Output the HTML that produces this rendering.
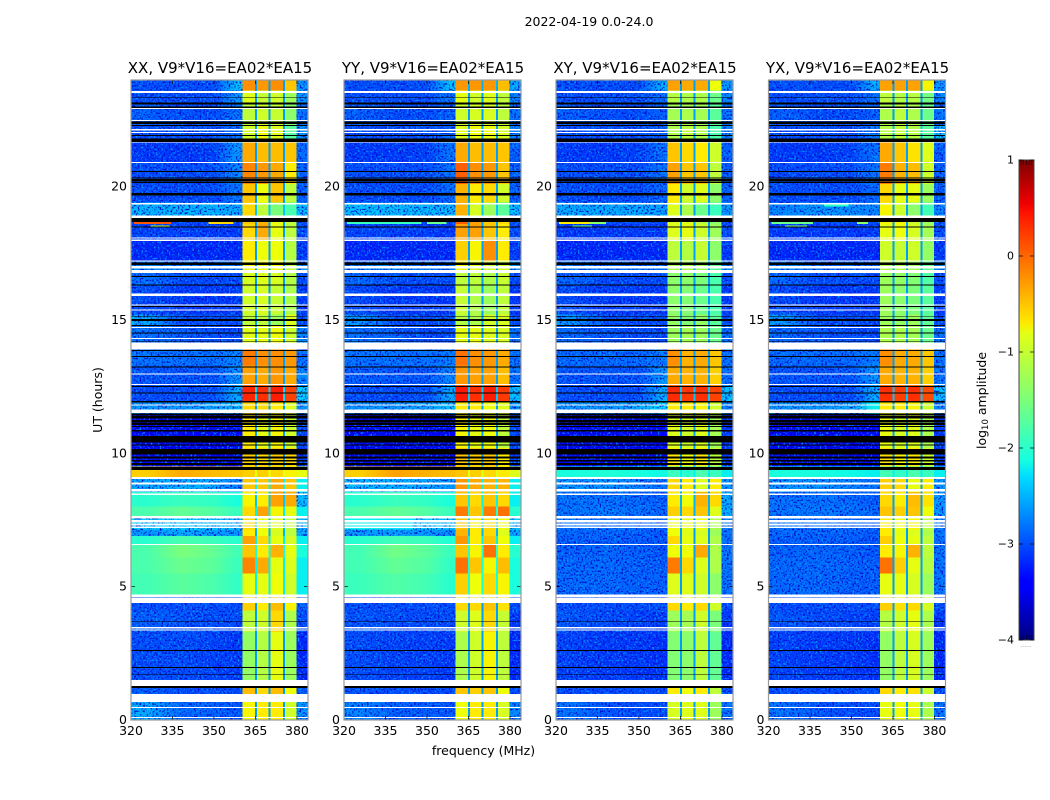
<!DOCTYPE html>
<html>
<head>
<meta charset="utf-8">
<title>2022-04-19 0.0-24.0</title>
<style>
html,body{margin:0;padding:0;background:#fff;}
svg{display:block;}
text{font-family:"DejaVu Sans","Liberation Sans",sans-serif;fill:#000;}
</style>
</head>
<body>
<svg id="figure" xmlns="http://www.w3.org/2000/svg" width="1050" height="800" viewBox="0 0 1050 800">
  <defs id="defs">
    <filter id="speckle" x="0" y="0" width="1" height="1" filterUnits="objectBoundingBox" color-interpolation-filters="sRGB">
      <feTurbulence type="fractalNoise" baseFrequency="0.55" numOctaves="1" seed="4" result="n"/>
      <feColorMatrix in="n" type="matrix" values="0 0 0 0 0  0 0 0 0 0.6  0 0 0 0 1  5 0 0 0 -2.6" result="light"/>
      <feColorMatrix in="n" type="matrix" values="0 0 0 0 0  0 0 0 0 0.05  0 0 0 0 0.8  0 -5 0 0 2.45" result="dark"/>
      <feMerge result="m"><feMergeNode in="light"/><feMergeNode in="dark"/></feMerge>
      <feComposite in="m" in2="SourceAlpha" operator="in"/>
    </filter>
    <linearGradient id="jet-gradient" x1="0" y1="1" x2="0" y2="0">
      <stop offset="0" stop-color="#00007f"/>
      <stop offset="0.11" stop-color="#0000ff"/>
      <stop offset="0.125" stop-color="#0000ff"/>
      <stop offset="0.34" stop-color="#00dcff"/>
      <stop offset="0.375" stop-color="#16ffe1"/>
      <stop offset="0.5" stop-color="#7cff79"/>
      <stop offset="0.64" stop-color="#e3ff14"/>
      <stop offset="0.66" stop-color="#ffea00"/>
      <stop offset="0.89" stop-color="#ff1300"/>
      <stop offset="0.91" stop-color="#ee0000"/>
      <stop offset="1" stop-color="#7f0000"/>
    </linearGradient>
  </defs>
  <text x="589" y="26" font-size="12.5" text-anchor="middle">2022-04-19 0.0-24.0</text>
  <text x="483.5" y="755" font-size="12.5" text-anchor="middle">frequency (MHz)</text>
  <text x="0" y="0" font-size="12.5" text-anchor="middle" transform="translate(102,400) rotate(-90)">UT (hours)</text>
  <text x="0" y="0" font-size="12.5" text-anchor="middle" transform="translate(986,400.5) rotate(-90)">log<tspan font-size="8.5" dy="2">10</tspan><tspan dy="-2"> amplitude</tspan></text>
  <g id="panels"></g>
  <g id="colorbar"></g>
  <text x="1026" y="647" font-size="6" style="fill:#888" text-anchor="middle">......</text>
</svg>
<script>
const panelTitles = ["XX, V9*V16=EA02*EA15", "YY, V9*V16=EA02*EA15", "XY, V9*V16=EA02*EA15", "YX, V9*V16=EA02*EA15"];
const xTicks = [320, 335, 350, 365, 380];
const yTicks = [0, 5, 10, 15, 20];
const colorTicks = [-4, -3, -2, -1, 0, 1];
const colorTickLabels = ["\u22124", "\u22123", "\u22122", "\u22121", "0", "1"];

/* frequency columns (MHz): four low-band zones, then bright channels, gaps between */
const freqEdges = [320, 332, 345, 355.5, 360.4, 364.8, 365.5, 369.8, 370.5, 374.9, 375.6, 379.9, 384];
/* index into a row's 9 values for each frequency column */
const freqColumnSource = [0, 1, 2, 3, 4, 8, 5, 8, 6, 8, 7, 8];

/* UT row boundaries in hours */
const rowEdges = [0, .7, 1.5, 3.3, 4.1, 4.7, 5.5, 6.1, 6.6, 6.9, 7.15, 7.65, 8, 8.55, 9.11, 9.5, 10.2, 11.5, 11.9, 12.55, 13.3, 13.95, 14.8, 15.2, 16.3, 16.8, 17.2, 18, 18.6, 18.68, 19.4, 20.1, 20.9, 21.7, 22.3, 23.1, 23.6, 24];

/* log10 amplitude per row: [low1, low2, low3, low4, ch1, ch2, ch3, ch4, edge] */
const levelsXX = [
[-2.5,-2.85,-2.9,-2.95,-.75,-.7,-.7,-1,-2.6],
[-2.9,-3,-3,-3,-.45,-.6,-.45,-.8,-2.9],
[-3,-3,-3.05,-3.1,-1.35,-1.15,-.85,-1.3,-3.2],
[-2.9,-2.95,-3,-3,-1.1,-1,-.6,-1.2,-3],
[-3,-3,-3,-3,-.55,-.7,-.45,-.75,-2.9],
[-1.85,-1.7,-1.8,-1.95,-.85,-.85,-.8,-1,-2.2],
[-1.8,-1.6,-1.7,-1.9,-.15,-.35,-.85,-.9,-2.2],
[-1.8,-1.5,-1.65,-1.85,-.5,-.7,-.4,-.85,-2.1],
[-2,-1.8,-1.9,-2,-.3,-.6,-.85,-.95,-2.2],
[-2.6,-2.5,-2.55,-2.6,-.7,-.8,-.95,-1.1,-2.5],
[-2.3,-2.3,-2.35,-2.4,-.6,-.8,-.9,-1.1,-2.4],
[-1.8,-1.65,-1.75,-1.9,-.6,-.3,-.75,-.85,-2.2],
[-2,-1.9,-1.95,-2.1,-.75,-.7,-.3,-.35,-2.4],
[-2.5,-2.45,-2.5,-2.7,-.5,-.5,-.35,-.5,-2.2],
[-.55,-.35,-.45,-.5,-.55,-.55,-.6,-.75,-.85],
[-3.5,-3.5,-3.5,-3.4,-.55,-.6,-.55,-.6,-3.1],
[-3.5,-3.5,-3.5,-3.4,-.7,-.85,-.75,-1,-3],
[-2.6,-2.6,-2.5,-2.4,-.6,-.6,-.7,-.9,-2.6],
[-3,-3,-3,-2.5,.35,.3,.4,.2,-2.3],
[-2.95,-2.95,-2.95,-2.6,-.3,-.35,-.25,-.35,-2.7],
[-2.8,-2.8,-2.8,-2.7,-.1,-.2,-.2,-.25,-2.8],
[-2.8,-2.9,-3,-3,-.9,-.85,-.8,-1,-2.7],
[-2.5,-3,-3,-3,-1.1,-1.1,-1.3,-.9,-3],
[-3,-3.1,-3.1,-3.1,-1,-.95,-1.05,-1.2,-3.1],
[-2.8,-3,-3,-3,-.95,-.9,-.95,-1.15,-3],
[-2.7,-2.7,-2.8,-2.8,-.8,-.8,-.8,-1.1,-2.6],
[-3.2,-3.2,-3.2,-3.2,-.7,-.8,-.8,-1.15,-3.1],
[-3.05,-3.05,-3.1,-3.1,-.6,-.35,-.85,-1.1,-3],
[-3,-3,-3.05,-3,-.5,-.4,-.85,-1.1,-3],
[-2.45,-2.45,-2.45,-2.5,-.6,-1.1,-1.5,-1.8,-2.4],
[-3,-3,-3,-2.8,-.5,-.8,-.5,-1.1,-2.9],
[-3,-3,-3,-2.7,-.15,-.25,-.35,-.7,-2.9],
[-3.1,-3.1,-3.05,-2.6,-.35,-.45,-.45,-.5,-2.85],
[-3,-3,-3,-2.8,-1,-.8,-.9,-1.7,-2.6],
[-2.9,-3,-3,-2.8,-1.1,-1,-1.05,-1.4,-2.8],
[-3,-3,-3,-2.6,-.9,-1.05,-1,-1.3,-2.6],
[-3,-3,-3,-2.4,-.2,-.25,-.2,-.5,-2.6]
];
const levelsYY = [
[-2.7,-2.9,-2.9,-2.95,-.8,-.7,-.7,-.95,-2.7],
[-2.95,-3,-3,-3,-.5,-.55,-.5,-.8,-3],
[-3,-3.05,-3.05,-3.1,-1.2,-1,-.75,-1.1,-3.2],
[-2.95,-3,-3,-3,-1,-.9,-.6,-1.05,-3.1],
[-3,-3,-3,-3,-.6,-.6,-.5,-.65,-3],
[-1.9,-1.75,-1.85,-2,-.55,-.8,-.6,-.75,-2.1],
[-1.85,-1.65,-1.75,-1.95,-.05,-.5,-.75,-.45,-2.1],
[-1.85,-1.55,-1.7,-1.9,-.5,-.75,-.05,-.7,-2],
[-2,-1.85,-1.9,-2.05,-.25,-.7,-.5,-.8,-2.2],
[-2.6,-2.55,-2.6,-2.65,-.4,-.7,-.6,-.9,-2.5],
[-2.2,-2.25,-2.3,-2.35,-.5,-.7,-.6,-.8,-2.4],
[-1.8,-1.65,-1.75,-1.9,-.1,-.5,-.1,-.05,-2],
[-2,-1.9,-1.95,-2.1,-.5,-.6,-.5,-.6,-2.2],
[-2.4,-2.45,-2.5,-2.6,-.25,-.35,-.4,-.4,-2.2],
[-.55,-.3,-.4,-.45,-.5,-.55,-.6,-.7,-.9],
[-3.5,-3.5,-3.5,-3.4,-.5,-.55,-.5,-.7,-3.1],
[-3.5,-3.5,-3.5,-3.4,-.75,-.85,-.8,-1.1,-3],
[-2.6,-2.6,-2.5,-2.4,-.7,-.7,-.8,-.9,-2.6],
[-3,-3,-3,-2.5,.42,.3,.4,.25,-2.4],
[-2.9,-2.95,-2.95,-2.7,-.25,-.3,-.3,-.45,-2.8],
[-2.8,-2.8,-2.8,-2.75,-.05,-.2,-.25,-.35,-2.8],
[-2.8,-2.9,-3,-3,-.85,-.85,-.9,-.95,-2.8],
[-2.6,-3,-3,-3,-1.15,-1.2,-1,-.95,-3],
[-3,-3.1,-3.1,-3.1,-1.05,-1.2,-1.3,-1.1,-3.1],
[-2.85,-3,-3,-3,-1.1,-1.1,-1.2,-1.05,-3],
[-2.7,-2.7,-2.8,-2.8,-.8,-.9,-1,-1,-2.6],
[-3.2,-3.2,-3.2,-3.2,-.55,-.75,-.2,-.7,-3.1],
[-3.05,-3.05,-3.1,-3.1,-.3,-.3,-.5,-.7,-3],
[-3,-3,-3,-3,.05,-.3,-.5,-.6,-3],
[-2.4,-2.4,-2.42,-2.45,-.4,-.95,-1.3,-1.7,-2.4],
[-3,-3,-3,-2.85,-.4,-.7,-.6,-1,-2.9],
[-3,-3,-3,-2.8,.05,-.2,-.25,-.5,-2.9],
[-3.1,-3.1,-3.05,-2.8,-.35,-.45,-.45,-.5,-2.9],
[-3,-3,-3,-2.9,-.9,-.8,-.8,-.95,-2.7],
[-2.9,-3,-3,-2.9,-1,-.95,-.95,-1.1,-2.8],
[-3,-3,-3,-2.8,-.85,-1,-.9,-1.1,-2.7],
[-3,-3,-3,-2.4,-.25,-.25,-.25,-.45,-2.5]
];
const levelsXY = [
[-2.8,-2.95,-3,-3,-.95,-.9,-.9,-1.3,-2.8],
[-3,-3,-3,-3,-.7,-.8,-.7,-1.1,-3],
[-3.05,-3.1,-3.1,-3.15,-1.45,-1.4,-1.1,-1.65,-3.2],
[-2.95,-3,-3.05,-3.05,-1.3,-1.25,-1,-1.5,-3.1],
[-3,-3,-3,-3,-.6,-.7,-.6,-1,-3],
[-2.85,-2.85,-2.9,-2.9,-.9,-.9,-1,-1.4,-2.8],
[-2.85,-2.85,-2.9,-2.9,-.1,-.6,-.9,-1.2,-2.8],
[-2.9,-2.85,-2.9,-2.95,-.8,-.8,-.35,-1.2,-2.8],
[-2.9,-2.9,-2.9,-2.95,-.6,-.85,-.9,-1.2,-2.8],
[-2.85,-2.85,-2.9,-2.95,-.8,-.9,-.95,-1.3,-2.8],
[-2.8,-2.8,-2.85,-2.9,-.8,-.85,-.8,-1.2,-2.7],
[-2.8,-2.75,-2.8,-2.85,-.55,-.6,-.5,-.9,-2.5],
[-2.8,-2.8,-2.85,-2.9,-.7,-.8,-.4,-.6,-2.5],
[-2.6,-2.6,-2.7,-2.8,-.6,-.7,-.9,-.7,-2.6],
[-2.1,-2.05,-2.1,-2.15,-1.9,-2,-1.8,-1.9,-2.2],
[-3.5,-3.5,-3.5,-3.4,-.7,-.8,-.7,-1.1,-3.1],
[-3.5,-3.5,-3.5,-3.4,-.9,-1,-.9,-1.25,-3.1],
[-2.6,-2.6,-2.5,-2.3,-.7,-.7,-.75,-1,-2.7],
[-3,-3,-3,-2.5,.32,.25,.3,.2,-2.4],
[-2.95,-2.95,-2.95,-2.6,-.35,-.4,-.4,-.55,-2.8],
[-2.85,-2.85,-2.85,-2.75,-.2,-.4,-.35,-.5,-2.8],
[-2.85,-2.95,-3,-3,-1.3,-1.25,-1.3,-1.6,-2.8],
[-2.6,-3,-3,-3,-1.35,-1.45,-1.35,-1.7,-3],
[-3,-3.1,-3.1,-3.1,-1.4,-1.45,-1.6,-1.8,-3.1],
[-2.85,-3,-3,-3,-1.4,-1.4,-1.5,-1.8,-3],
[-2.7,-2.8,-2.85,-2.85,-1.2,-1.2,-1.3,-1.7,-2.7],
[-3.2,-3.2,-3.2,-3.2,-1.1,-1.15,-1.05,-1.4,-3.1],
[-3.1,-3.1,-3.1,-3.1,-.9,-.85,-1,-1.3,-3],
[-3,-3,-3,-3,-.9,-.9,-1.1,-1.4,-3],
[-2.5,-2.5,-2.5,-2.55,-.9,-1.2,-1.6,-1.9,-2.6],
[-3,-3,-3,-2.85,-.7,-1,-.9,-1.4,-2.9],
[-3,-3,-3,-2.8,-.3,-.5,-.5,-1.1,-2.9],
[-3.1,-3.1,-3.05,-2.8,-.5,-.6,-.7,-1,-2.9],
[-3,-3,-3,-2.9,-1.2,-1.1,-1.2,-1.8,-2.7],
[-2.9,-3,-3,-2.9,-1.25,-1.2,-1.25,-1.7,-2.8],
[-3,-3,-3,-2.8,-1.15,-1.2,-1.2,-1.6,-2.7],
[-3,-3,-3,-2.5,-.3,-.35,-.35,-.8,-2.6]
];
const levelsYX = [
[-2.8,-2.95,-3,-3,-.85,-.8,-.85,-1.2,-2.8],
[-3,-3,-3,-3,-.6,-.7,-.65,-1,-3],
[-3.05,-3.1,-3.1,-3.15,-1.35,-1.1,-.95,-1.3,-3.2],
[-2.95,-3,-3.05,-3.05,-1.15,-1,-.85,-1.2,-3.1],
[-3,-3,-3,-3,-.55,-.65,-.6,-.95,-3],
[-2.85,-2.85,-2.9,-2.9,-.85,-.85,-.95,-1.3,-2.8],
[-2.85,-2.85,-2.9,-2.9,-.05,-.55,-.85,-1.15,-2.8],
[-2.9,-2.85,-2.9,-2.95,-.7,-.75,-.4,-1.1,-2.8],
[-2.9,-2.9,-2.9,-2.95,-.55,-.8,-.85,-1.1,-2.8],
[-2.85,-2.85,-2.9,-2.95,-.7,-.85,-.9,-1.2,-2.8],
[-2.8,-2.8,-2.85,-2.9,-.7,-.8,-.75,-1.1,-2.7],
[-2.8,-2.75,-2.8,-2.85,-.5,-.55,-.5,-.8,-2.6],
[-2.8,-2.8,-2.85,-2.9,-.6,-.7,-.45,-.65,-2.6],
[-2.6,-2.6,-2.7,-2.8,-.55,-.6,-.85,-.7,-2.6],
[-2.1,-2.1,-2.15,-2.2,-1.85,-1.95,-1.8,-1.9,-2.2],
[-3.5,-3.5,-3.5,-3.4,-.65,-.75,-.7,-1,-3.1],
[-3.5,-3.5,-3.5,-3.4,-.85,-.95,-.9,-1.2,-3.1],
[-2.6,-2.6,-2.5,-2.2,-.7,-.7,-.75,-1,-2.7],
[-3,-3,-3,-2.5,.3,.22,.3,.15,-2.4],
[-2.95,-2.95,-2.95,-2.6,-.35,-.4,-.4,-.55,-2.8],
[-2.85,-2.85,-2.85,-2.75,-.2,-.35,-.35,-.5,-2.8],
[-2.85,-2.95,-3,-3,-1.2,-1.2,-1.25,-1.6,-2.8],
[-2.6,-3,-3,-3,-1.3,-1.35,-1.3,-1.65,-3],
[-3,-3.1,-3.1,-3.1,-1.3,-1.4,-1.5,-1.7,-3.1],
[-2.85,-3,-3,-3,-1.3,-1.35,-1.45,-1.75,-3],
[-2.7,-2.8,-2.85,-2.85,-1.15,-1.15,-1.25,-1.65,-2.7],
[-3.2,-3.2,-3.2,-3.2,-1,-1.05,-1,-1.35,-3.1],
[-3.1,-3.1,-3.1,-3.1,-.85,-.8,-.95,-1.25,-3],
[-3,-3,-3,-3,-.75,-.75,-1,-1.3,-3],
[-2.7,-2.6,-2.65,-2.7,-.75,-1,-1.4,-1.85,-2.7],
[-3,-3,-3,-2.85,-.6,-.85,-.85,-1.3,-2.9],
[-3,-3,-3,-2.8,-.1,-.4,-.45,-1,-2.9],
[-3.1,-3.1,-3.05,-2.8,-.35,-.5,-.65,-.9,-2.9],
[-3,-3,-3,-2.75,-1.15,-1.05,-1.15,-1.7,-2.4],
[-2.9,-3,-3,-2.9,-1.2,-1.1,-1.2,-1.6,-2.8],
[-3,-3,-3,-2.8,-1.1,-1.15,-1.15,-1.55,-2.7],
[-3,-3,-3,-2.5,-.3,-.3,-.3,-.75,-2.6]
];
const panelLevels = [levelsXX, levelsYY, levelsXY, levelsYX];

/* narrow interference streaks per panel: [freq start, freq end, hour, log10 amplitude] */
const streaksXX = [[321,334.5,18.63,.1],[348,357,18.63,-.6],[327,334,18.5,-1.1]];
const streaksYY = [[321,348,18.63,-1.9],[350,357,18.63,-1.6]];
const streaksXY = [[321,332,18.63,-.7],[332,338,18.63,-1.4],[326,333,18.5,-1.7]];
const streaksYX = [[321,336,18.63,-1.6],[326,334,18.5,-1.5],[340,349,19.3,-2],[352,356,18.63,-1.4]];
const panelStreaks = [streaksXX, streaksYY, streaksXY, streaksYX];

/* flagged (no-data) time ranges, white = missing, black = zero, hours */
const whiteBands = [[.08,.11],[.45,.49],[.68,.98],[1.28,1.5],[3.36,3.4],[3.44,3.48],[4.38,4.59],[4.62,4.7],[6.56,6.6],[7.2,7.25],[7.3,7.36],[7.4,7.5],[7.55,7.65],[8.44,8.5],[8.56,8.66],[8.84,8.91],[9.04,9.11],[11.51,11.64],[11.79,11.84],[12.56,12.6],[12.95,13],[13.9,14.15],[14.29,14.33],[14.7,14.74],[15.35,15.4],[15.55,15.59],[15.9,16],[16.77,16.88],[16.94,17.03],[17.2,17.24],[17.97,18.01],[18.06,18.1],[18.83,18.91],[19.34,19.38],[20.89,20.93],[21.65,21.69],[22.01,22.05],[22.1,22.17],[22.46,22.5],[22.91,22.96],[23.51,23.59]];
const blackBands = [[1.2,1.28],[1.68,1.71],[1.95,1.98],[2.59,2.63],[3.69,3.71],[9.38,9.48],[9.56,9.63],[9.69,9.75],[9.8,9.88],[9.95,10.16],[10.3,10.34],[10.4,10.65],[10.81,10.88],[10.98,11.03],[11.06,11.13],[11.15,11.25],[11.31,11.4],[11.42,11.5],[11.9,11.97],[12.24,12.28],[12.49,12.53],[13.21,13.25],[13.61,13.65],[13.84,13.88],[14.19,14.22],[14.5,14.54],[14.78,14.81],[14.97,15.03],[15.13,15.15],[15.49,15.53],[16.3,16.34],[16.61,16.65],[17.06,17.16],[18.46,18.5],[18.68,18.83],[19.66,19.77],[20.13,20.2],[20.22,20.28],[20.31,20.35],[20.55,20.59],[21.68,21.8],[21.9,21.94],[22.28,22.31],[22.35,22.45],[22.95,23.01],[23.09,23.15],[23.34,23.36]];

const NS = 'http://www.w3.org/2000/svg';
const panelLefts = [131, 344, 556, 768.5];
const panelWidth = 177;
const plotTop = 80, plotBottom = 720;
const freqMin = 320, freqMax = 384, utMin = 0, utMax = 24, ampMin = -4, ampMax = 1;
const lowBandColumns = 4;

function xScale(left, mhz) { return left + (mhz - freqMin) / (freqMax - freqMin) * panelWidth; }
function yScale(hour) { return plotBottom - (hour - utMin) / (utMax - utMin) * (plotBottom - plotTop); }
function ampScale(v) { return 640 - (v - ampMin) / (ampMax - ampMin) * 480; }

function ramp(t, pts) {
  for (let i = 1; i < pts.length; i++) {
    if (t <= pts[i][0]) {
      const a = pts[i - 1], b = pts[i];
      return a[1] + (b[1] - a[1]) * (t - a[0]) / (b[0] - a[0]);
    }
  }
  return pts[pts.length - 1][1];
}
function jet(v) {
  const t = Math.max(0, Math.min(1, (v - ampMin) / (ampMax - ampMin)));
  const r = ramp(t, [[0,0],[.35,0],[.66,1],[.89,1],[1,.5]]);
  const g = ramp(t, [[0,0],[.125,0],[.375,1],[.64,1],[.91,0],[1,0]]);
  const b = ramp(t, [[0,.5],[.11,1],[.34,1],[.65,0],[1,0]]);
  return 'rgb(' + Math.round(r * 255) + ',' + Math.round(g * 255) + ',' + Math.round(b * 255) + ')';
}
function make(tag, attrs, parent) {
  const el = document.createElementNS(NS, tag);
  for (const k in attrs) el.setAttribute(k, attrs[k]);
  parent.appendChild(el);
  return el;
}

const panelsRoot = document.getElementById('panels');
const defsRoot = document.getElementById('defs');
panelTitles.forEach(function (title, p) {
  const left = panelLefts[p];
  const g = make('g', {}, panelsRoot);
  
  

  const titleEl = make('text', { x: left + panelWidth / 2 + 0.5, y: 73, 'font-size': 15, 'text-anchor': 'middle' }, g);
  
  
  titleEl.textContent = title;

  const cells = make('g', { 'shape-rendering': 'crispEdges' }, g);
  
  
  const noise = make('g', { filter: 'url(#speckle)', 'shape-rendering': 'crispEdges' }, g);
  
  

  panelLevels[p].forEach(function (row, r) {
    const yTop = yScale(rowEdges[r + 1]), yBot = yScale(rowEdges[r]);
    const lowEnd = freqEdges[lowBandColumns];
    const gradId = 'low-' + p + '-' + r;
    const grad = make('linearGradient', { id: gradId, x1: 0, y1: 0, x2: 1, y2: 0 }, defsRoot);
    for (let c = 0; c < lowBandColumns; c++) {
      const centre = (freqEdges[c] + freqEdges[c + 1]) / 2;
      make('stop', { offset: (centre - freqMin) / (lowEnd - freqMin), 'stop-color': jet(row[c]) }, grad);
    }
    const lowRect = make('rect', { x: xScale(left, freqMin), y: yTop, width: xScale(left, lowEnd) - xScale(left, freqMin), height: yBot - yTop, fill: 'url(#' + gradId + ')' }, cells);
    
    

    freqColumnSource.forEach(function (src, c) {
      const x0 = xScale(left, freqEdges[c]), x1 = xScale(left, freqEdges[c + 1]);
      if (c >= lowBandColumns) {
        const isGap = src === 8 && c < freqColumnSource.length - 1;
        const v = isGap ? Math.max(row[src], -2.6) : row[src];
        const cell = make('rect', { x: x0, y: yTop, width: x1 - x0, height: yBot - yTop, fill: jet(v) }, cells);
        
        
      }
      if ((c < lowBandColumns || c === freqColumnSource.length - 1) && row[src] < -2.25) {
        const n = make('rect', { x: x0, y: yTop, width: x1 - x0, height: yBot - yTop, fill: '#fff' }, noise);
        
        
      }
    });
  });

  const streakGroup = make('g', { 'shape-rendering': 'crispEdges' }, g);
  
  
  panelStreaks[p].forEach(function (s) {
    const x0 = xScale(left, s[0]), x1 = xScale(left, s[1]);
    const rect = make('rect', { x: x0, y: yScale(s[2]) - 1, width: x1 - x0, height: 2, fill: jet(s[3]) }, streakGroup);
    
    
  });

  const flags = make('g', { 'shape-rendering': 'crispEdges' }, g);
  
  
  whiteBands.forEach(function (band) {
    const rect = make('rect', { x: left, y: yScale(band[1]), width: panelWidth, height: yScale(band[0]) - yScale(band[1]), fill: '#fff' }, flags);
    
    
  });
  blackBands.forEach(function (band) {
    const rect = make('rect', { x: left, y: yScale(band[1]), width: panelWidth, height: yScale(band[0]) - yScale(band[1]), fill: '#000' }, flags);
    
    
  });

  xTicks.forEach(function (v) {
    const x = xScale(left, v);
    const t1 = make('line', { x1: x, x2: x, y1: plotBottom, y2: plotBottom - 4, stroke: '#000', 'stroke-width': 0.7 }, g);
    
    
    const t2 = make('line', { x1: x, x2: x, y1: plotTop, y2: plotTop + 4, stroke: '#000', 'stroke-width': 0.7 }, g);
    
    
    const lab = make('text', { x: x, y: 735, 'font-size': 12.5, 'text-anchor': 'middle' }, g);
    
    
    lab.textContent = v;
  });
  yTicks.forEach(function (v) {
    const y = yScale(v);
    const t1 = make('line', { x1: left, x2: left + 4, y1: y, y2: y, stroke: '#000', 'stroke-width': 0.7 }, g);
    
    
    const t2 = make('line', { x1: left + panelWidth, x2: left + panelWidth - 4, y1: y, y2: y, stroke: '#000', 'stroke-width': 0.7 }, g);
    
    
    const lab = make('text', { x: left - 4, y: y + 4, 'font-size': 12.5, 'text-anchor': 'end' }, g);
    
    
    lab.textContent = v;
  });

  const frame = make('rect', { x: left, y: plotTop, width: panelWidth, height: plotBottom - plotTop, fill: 'none', stroke: '#9a9a9a', 'stroke-width': 1.2 }, g);
  
  
});

const cb = document.getElementById('colorbar');
const cbX = 1019, cbW = 15;
const cbRect = make('rect', { x: cbX, y: ampScale(ampMax), width: cbW, height: ampScale(ampMin) - ampScale(ampMax), fill: 'url(#jet-gradient)', stroke: '#444', 'stroke-width': 1 }, cb);


colorTicks.forEach(function (v, i) {
  const y = ampScale(v);
  const a = make('line', { x1: cbX, x2: cbX + 4, y1: y, y2: y, stroke: '#000', 'stroke-width': 0.7 }, cb);
  
  
  const b = make('line', { x1: cbX + cbW - 4, x2: cbX + cbW, y1: y, y2: y, stroke: '#000', 'stroke-width': 0.7 }, cb);
  
  
  const lab = make('text', { x: 1014, y: y + 3.5, 'font-size': 11, 'text-anchor': 'end' }, cb);
  
  
  lab.textContent = colorTickLabels[i];
});
[ampMin, ampMax].forEach(function (end) {
  for (let k = 0; k < 5; k++) {
    const x = cbX + 2 + k * 2.7;
    const y = ampScale(end);
    const m = make('line', { x1: x, x2: x, y1: y, y2: end < 0 ? y - 5 : y + 5, stroke: '#000', 'stroke-width': 0.5 }, cb);
    
    
  }
});
</script>
</body>
</html>
